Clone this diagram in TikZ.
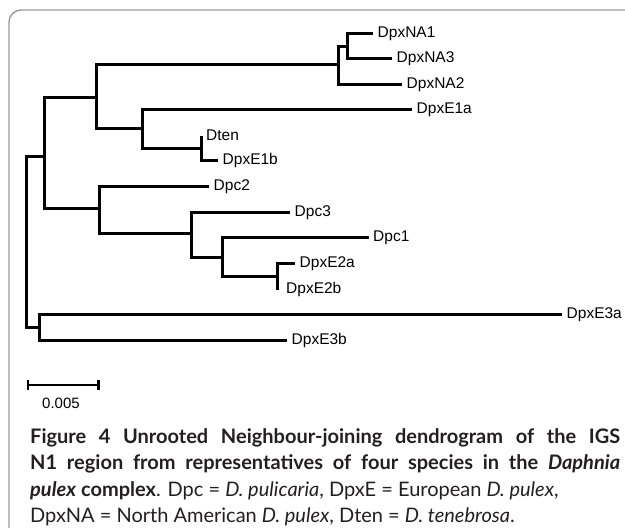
\documentclass[tikz,border=0pt]{standalone}
\usepackage{fontspec}
\setmainfont{Liberation Sans}
\newfontfamily\labelfont{Liberation Sans}
\newfontfamily\captionfont{Lato}
\usetikzlibrary{arrows.meta}

\definecolor{framegray}{HTML}{9A9A9A}
\definecolor{captext}{HTML}{231F20}

\begin{document}
\begin{tikzpicture}[
	x=1pt, y=-1pt,
	% Style for tree branches
	branch/.style={line width=3pt, line join=miter},
	% Style for leaf labels
	leaf/.style={anchor=west, inner sep=0pt, xshift=4.5pt, font=\labelfont\fontsize{15.5}{16}\selectfont},
	% Style for caption lines
	capline/.style={anchor=base west, inner sep=0pt, text=captext, font=\captionfont\fontsize{20}{20}\selectfont}
	]
	\useasboundingbox (0,0) rectangle (625,528);
	\clip (0,0) rectangle (625,528);
	
	% 1. Frame round the figure (only its top and left edges show)
	\coordinate (frameBL) at (9,540);
	\coordinate (frameTL) at (9,10);
	\coordinate (frameTR) at (640,10);
	\draw[framegray, line width=1.4pt, rounded corners=12pt] (frameBL) -- (frameTL) -- (frameTR);
	
	% 2. Internal nodes of the tree
	\coordinate (root) at (26.5,242.5);
	\coordinate (n1) at (44.5,156.5);
	\coordinate (n2) at (96.5,97.5);
	\coordinate (nNA) at (338.5,64.5);
	\coordinate (nNA13) at (347.5,46);
	\coordinate (nE1) at (142.5,128.5);
	\coordinate (nDten) at (201.5,148.5);
	\coordinate (nDpc) at (99.5,208.5);
	\coordinate (nDpc3) at (191.5,233.5);
	\coordinate (nDpc1) at (222.5,257.5);
	\coordinate (nE2) at (277.5,276.5);
	\coordinate (nE3) at (39.5,327.5);
	
	% 3. Leaves
	\coordinate (NA1) at (373,33.5);
	\coordinate (NA3) at (392,58.5);
	\coordinate (NA2) at (402,84.5);
	\coordinate (E1a) at (412,109.5);
	\coordinate (Dten) at (201.5,135.5);
	\coordinate (E1b) at (218,160.5);
	\coordinate (Dpc2) at (209,186.5);
	\coordinate (Dpc3) at (290,212.5);
	\coordinate (Dpc1) at (368.5,237.5);
	\coordinate (E2a) at (295,263.5);
	\coordinate (E2b) at (277.5,289.5);
	\coordinate (E3a) at (562,314.5);
	\coordinate (E3b) at (287,340.5);
	
	% 4. Branches
	\draw[branch] (root) |- (n1);
	\draw[branch] (root) |- (nE3);
	\draw[branch] (n1) |- (n2);
	\draw[branch] (n1) |- (nDpc);
	\draw[branch] (n2) |- (nNA);
	\draw[branch] (n2) |- (nE1);
	\draw[branch] (nNA) |- (nNA13);
	\draw[branch] (nNA) |- (NA2);
	\draw[branch] (nNA13) |- (NA1);
	\draw[branch] (nNA13) |- (NA3);
	\draw[branch] (nE1) |- (E1a);
	\draw[branch] (nE1) |- (nDten);
	\draw[branch] (nDten) |- (Dten);
	\draw[branch] (nDten) |- (E1b);
	\draw[branch] (nDpc) |- (Dpc2);
	\draw[branch] (nDpc) |- (nDpc3);
	\draw[branch] (nDpc3) |- (Dpc3);
	\draw[branch] (nDpc3) |- (nDpc1);
	\draw[branch] (nDpc1) |- (Dpc1);
	\draw[branch] (nDpc1) |- (nE2);
	\draw[branch] (nE2) |- (E2a);
	\draw[branch] (nE2) |- (E2b);
	\draw[branch] (nE3) |- (E3a);
	\draw[branch] (nE3) |- (E3b);
	
	% 5. Leaf labels
	\node[leaf] (NA1lab) at (NA1) {DpxNA1};
	\node[leaf] (NA3lab) at (NA3) {DpxNA3};
	\node[leaf] (NA2lab) at (NA2) {DpxNA2};
	\node[leaf] (E1alab) at (E1a) {DpxE1a};
	\node[leaf] (Dtenlab) at (Dten) {Dten};
	\node[leaf] (E1blab) at (E1b) {DpxE1b};
	\node[leaf] (Dpc2lab) at (Dpc2) {Dpc2};
	\node[leaf] (Dpc3lab) at (Dpc3) {Dpc3};
	\node[leaf] (Dpc1lab) at (Dpc1) {Dpc1};
	\node[leaf] (E2alab) at (E2a) {DpxE2a};
	\node[leaf, xshift=4pt] (E2blab) at (E2b) {DpxE2b};
	\node[leaf] (E3alab) at (E3a) {DpxE3a};
	\node[leaf] (E3blab) at (E3b) {DpxE3b};
	
	% 6. Scale bar
	\coordinate (barL) at (26.5,385);
	\coordinate (barR) at (99.5,385);
	\draw[line width=2.6pt, {Bar[width=10pt,line width=2.2pt]}-{Bar[width=10pt,line width=2.2pt]}] (barL) -- (barR);
	\node[inner sep=0pt, font=\labelfont\fontsize{15}{15}\selectfont] (barlab) at (61,403) {0.005};
	
	% 7. Caption
	\node[capline] (cap1) at (30,443) {\makebox[590pt][s]{\bfseries Figure 4 Unrooted Neighbour-joining dendrogram of the IGS}};
	\node[capline] (cap2) at (30,469.5) {\makebox[590pt][s]{\bfseries N1 region from representatives of four species in the \itshape Daphnia}};
	\node[capline] (cap3) at (30,496) {\textbf{\textit{pulex} complex}. Dpc = \textit{D. pulicaria}, DpxE = European \textit{D. pulex},};
	\node[capline] (cap4) at (30,522.5) {DpxNA = North American \textit{D. pulex}, Dten = \textit{D. tenebrosa}.};
	
\end{tikzpicture}
\end{document}
